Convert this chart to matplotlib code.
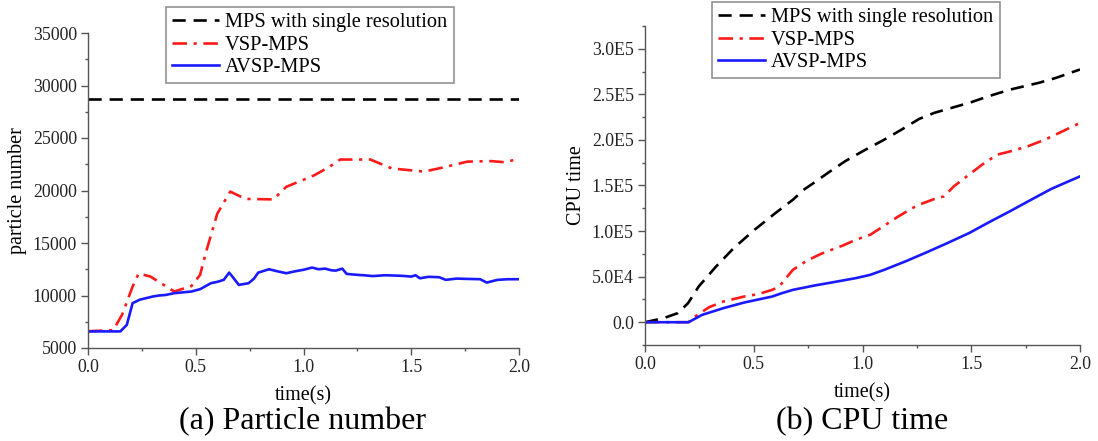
import numpy as np
import matplotlib
matplotlib.use("Agg")
import matplotlib.pyplot as plt
from matplotlib.ticker import MultipleLocator, FixedLocator

plt.rcParams['font.family'] = ['Liberation Serif', 'DejaVu Serif']

# ---- (a) particle number ----
single_n = 28700

vsp_t = [0.0, 0.117, 0.158, 0.207, 0.235, 0.29, 0.40, 0.48, 0.52, 0.55, 0.60, 0.65, 0.66,
         0.73, 0.86, 0.92, 1.05, 1.12, 1.17, 1.31, 1.41, 1.56, 1.66, 1.76, 1.87, 1.93, 2.0]
vsp_n = [6600, 6700, 8160, 10850, 12100, 11800, 10380, 10900, 11960, 14300, 17800, 19550, 19900,
         19200, 19150, 20350, 21450, 22250, 22950, 22950, 22100, 21800, 22250, 22750, 22800, 22700, 23000]

avsp_t = [0.0, 0.15, 0.18, 0.207, 0.24, 0.27, 0.30, 0.33, 0.36, 0.40, 0.44, 0.48, 0.52, 0.57,
          0.60, 0.63, 0.655, 0.67, 0.70, 0.745, 0.77, 0.79, 0.84, 0.88, 0.92, 0.96, 1.0, 1.04,
          1.07, 1.10, 1.13, 1.15, 1.18, 1.20, 1.23, 1.26, 1.28, 1.32, 1.38, 1.42, 1.46, 1.50,
          1.52, 1.54, 1.58, 1.63, 1.66, 1.71, 1.76, 1.82, 1.85, 1.90, 1.95, 2.0]
avsp_n = [6580, 6580, 7200, 9270, 9600, 9750, 9900, 10000, 10050, 10220, 10300, 10380, 10600, 11170,
          11300, 11490, 12180, 11800, 11010, 11170, 11600, 12180, 12500, 12300, 12120, 12300, 12450, 12660,
          12500, 12560, 12400, 12370, 12560, 12060, 12000, 11950, 11930, 11850, 11930, 11900, 11870, 11800,
          11930, 11640, 11780, 11740, 11490, 11610, 11580, 11550, 11230, 11490, 11550, 11550]

# ---- (b) CPU time ----
mps_t = [0.0, 0.085, 0.15, 0.198, 0.247, 0.327, 0.408, 0.504, 0.60, 0.68, 0.73, 0.78, 0.84, 0.92,
         1.0, 1.10, 1.18, 1.26, 1.33, 1.41, 1.50, 1.58, 1.68, 1.81, 1.89, 2.0]
mps_cpu = [0, 4400, 9900, 20900, 39200, 61200, 81300, 101500, 119800, 134400, 145400, 153500, 163700,
           176600, 187500, 200300, 211400, 223000, 229700, 235200, 241400, 248000, 255300, 262600,
           268100, 277300]

vsp_ct = [0.0, 0.2, 0.23, 0.295, 0.36, 0.456, 0.52, 0.585, 0.617, 0.68, 0.746, 0.81, 0.907, 0.97,
          1.036, 1.10, 1.165, 1.23, 1.26, 1.33, 1.375, 1.42, 1.49, 1.55, 1.62, 1.68, 1.76, 1.84, 1.92, 2.0]
vsp_cpu = [0, 0, 6200, 16500, 22700, 28200, 30800, 35500, 39200, 57500, 67800, 75100, 83900, 90500,
           96000, 105900, 116100, 125300, 128900, 135200, 138100, 149100, 161900, 172900, 183900,
           187500, 193000, 200400, 209500, 218700]

avsp_ct = [0.0, 0.2, 0.263, 0.36, 0.456, 0.585, 0.63, 0.68, 0.78, 0.875, 0.97, 1.036, 1.10, 1.197,
           1.294, 1.39, 1.49, 1.58, 1.68, 1.78, 1.87, 2.0]
avsp_cpu = [0, 0, 8100, 15400, 21600, 28200, 31900, 35500, 40300, 44300, 48400, 52000, 57500, 66700,
            76600, 86800, 97800, 109500, 122000, 135000, 146500, 160000]

cpu_ticks = [0, 50000, 100000, 150000, 200000, 250000, 300000]
cpu_labels = ['0.0', '5.0E4', '1.0E5', '1.5E5', '2.0E5', '2.5E5', '3.0E5']

labels = ['MPS with single resolution', 'VSP-MPS', 'AVSP-MPS']

black_style = dict(color='black', lw=1.9, dashes=(5, 3))
red_style = dict(color='#ff1a1a', lw=1.9, dashes=(5.5, 2.5, 1.2, 2.5))
blue_style = dict(color='#1a1aff', lw=1.9)

fig = plt.figure(figsize=(10.98, 4.41), dpi=100)
W, H = 1098, 441
ax1 = fig.add_axes([88 / W, 1 - 348 / H, (519 - 88) / W, (348 - 33) / H])
ax2 = fig.add_axes([645 / W, 1 - 345 / H, (1080 - 645) / W, (345 - 26) / H])


def style_axes(ax):
    for s in ['top', 'right']:
        ax.spines[s].set_visible(False)
    for s in ['left', 'bottom']:
        ax.spines[s].set_color('#555555')
        ax.spines[s].set_linewidth(1.0)
    ax.tick_params(which='major', direction='out', length=5, width=1, color='#555555',
                   labelsize=12.8, labelcolor='#222222', pad=3)
    ax.tick_params(which='minor', direction='out', length=2.5, width=1, color='#555555')
    ax.xaxis.set_minor_locator(MultipleLocator(0.25))
    ax.set_xlim(0, 2.0)
    ax.set_xticks([0, 0.5, 1.0, 1.5, 2.0])
    ax.set_xticklabels(['0.0', '0.5', '1.0', '1.5', '2.0'])
    ax.set_xlabel('time(s)', fontsize=14.5, labelpad=7.5)


# left
style_axes(ax1)
l1, = ax1.plot([0, 2.0], [single_n, single_n], **black_style)
l2, = ax1.plot(vsp_t, vsp_n, **red_style)
l3, = ax1.plot(avsp_t, avsp_n, **blue_style)
ax1.set_ylim(5000, 35000)
ax1.yaxis.set_major_locator(MultipleLocator(5000))
ax1.yaxis.set_minor_locator(MultipleLocator(2500))
ax1.set_ylabel('particle number', fontsize=14.5, labelpad=4)

# right
style_axes(ax2)
ax2.plot(mps_t, mps_cpu, **black_style)
ax2.plot(vsp_ct, vsp_cpu, **red_style)
ax2.plot(avsp_ct, avsp_cpu, **blue_style)
ax2.set_ylim(-25000, 325000)
ax2.yaxis.set_major_locator(FixedLocator(cpu_ticks))
ax2.set_yticklabels(cpu_labels)
ax2.yaxis.set_minor_locator(MultipleLocator(25000))
ax2.set_ylabel('CPU time', fontsize=14.5, labelpad=4)

for ax, (x0, y0) in [(ax1, (166, 7)), (ax2, (712, 2))]:
    leg = ax.legend([l1, l2, l3], labels, loc='upper left',
                    bbox_to_anchor=(x0 / W, 1 - y0 / H), bbox_transform=fig.transFigure,
                    fontsize=14.7, frameon=True, fancybox=False, handlelength=2.3,
                    handletextpad=0.3, labelspacing=0.15, borderpad=0.3, borderaxespad=0)
    leg.get_frame().set_edgecolor('#777777')
    leg.get_frame().set_linewidth(1.2)

fig.text(303 / W, 1 - 422 / H, '(a) Particle number', fontsize=23, ha='center', va='center')
fig.text(862 / W, 1 - 422 / H, '(b) CPU time', fontsize=23, ha='center', va='center')

fig.savefig('out.png', dpi=100)
